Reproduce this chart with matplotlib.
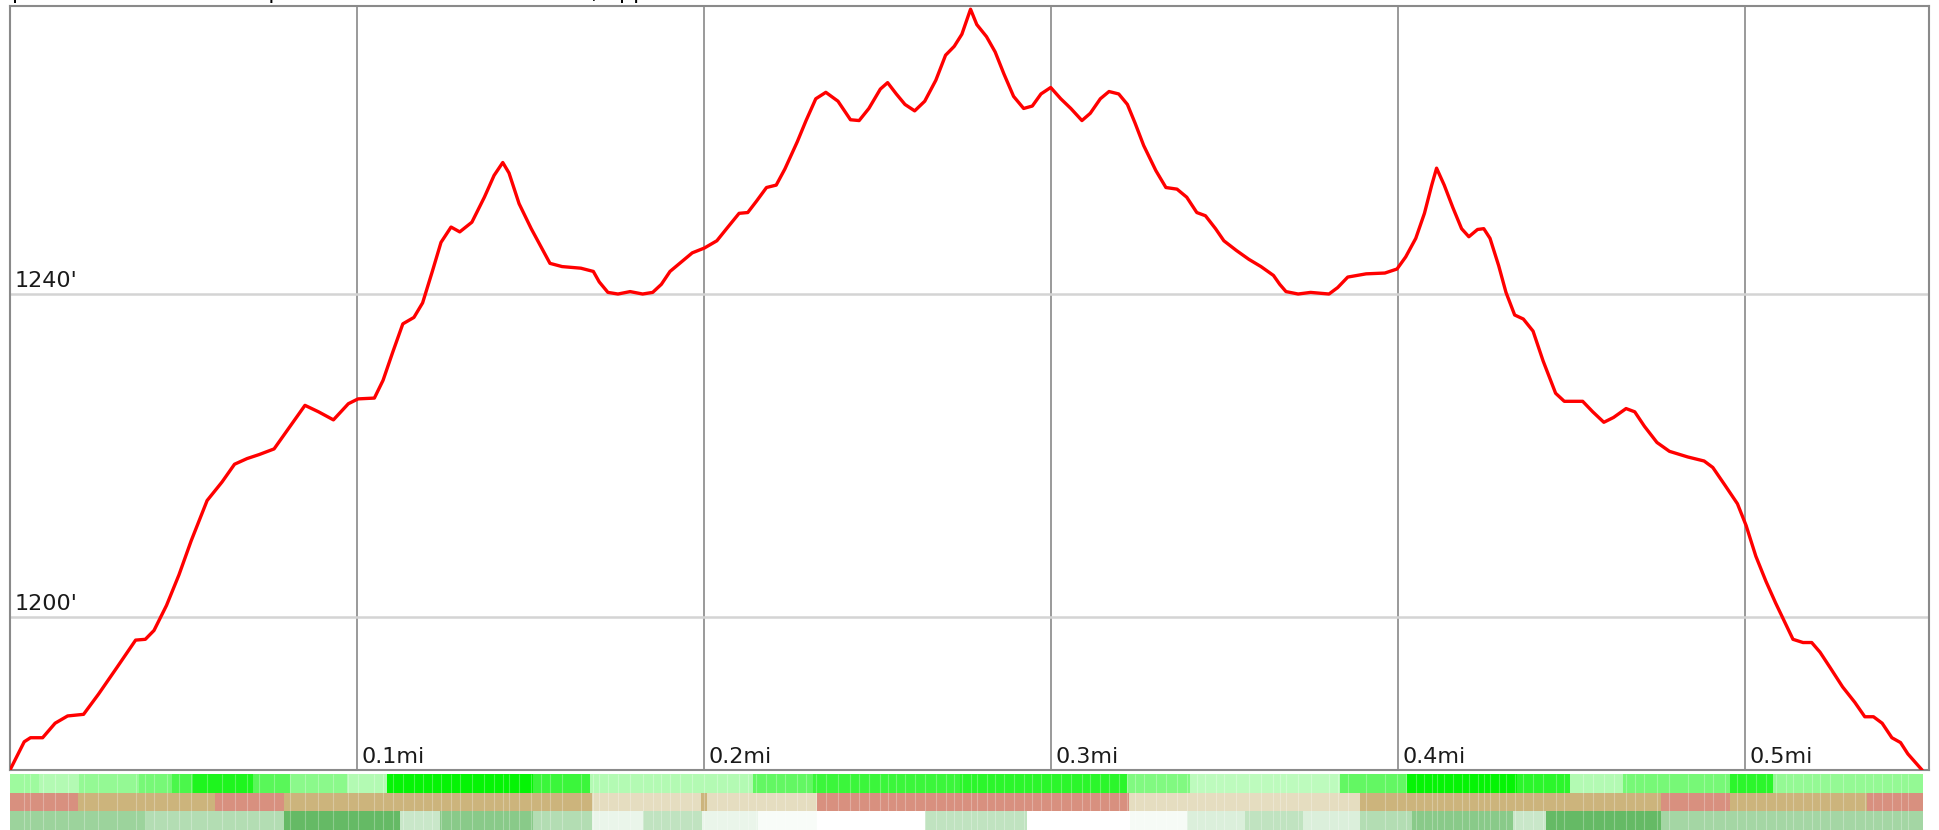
import matplotlib
matplotlib.use("Agg")
import matplotlib.pyplot as plt
from matplotlib.colors import LinearSegmentedColormap

# elevation profile (miles, feet)
dist_mi = [0.0000, 0.0041, 0.0059, 0.0094, 0.0130, 0.0166, 0.0212, 0.0255, 0.0308, 0.0362,
           0.0390, 0.0415, 0.0451, 0.0487, 0.0522, 0.0568, 0.0611, 0.0647, 0.0683, 0.0718,
           0.0761, 0.0807, 0.0850, 0.0889, 0.0932, 0.0975, 0.1003, 0.1050, 0.1075, 0.1103,
           0.1132, 0.1164, 0.1189, 0.1217, 0.1242, 0.1271, 0.1296, 0.1331, 0.1367, 0.1395,
           0.1420, 0.1438, 0.1467, 0.1502, 0.1531, 0.1556, 0.1591, 0.1645, 0.1681, 0.1698,
           0.1723, 0.1752, 0.1787, 0.1823, 0.1852, 0.1877, 0.1902, 0.1930, 0.1966, 0.2001,
           0.2037, 0.2065, 0.2101, 0.2126, 0.2151, 0.2180, 0.2208, 0.2233, 0.2269, 0.2294,
           0.2322, 0.2351, 0.2386, 0.2422, 0.2447, 0.2475, 0.2508, 0.2529, 0.2554, 0.2579,
           0.2607, 0.2636, 0.2668, 0.2696, 0.2721, 0.2743, 0.2768, 0.2786, 0.2814, 0.2839,
           0.2864, 0.2892, 0.2921, 0.2946, 0.2971, 0.2999, 0.3028, 0.3057, 0.3089, 0.3113,
           0.3142, 0.3167, 0.3195, 0.3220, 0.3242, 0.3267, 0.3302, 0.3331, 0.3363, 0.3391,
           0.3420, 0.3445, 0.3474, 0.3498, 0.3534, 0.3570, 0.3605, 0.3641, 0.3659, 0.3677,
           0.3712, 0.3748, 0.3801, 0.3826, 0.3855, 0.3908, 0.3962, 0.3997, 0.4022, 0.4051,
           0.4076, 0.4097, 0.4111, 0.4133, 0.4158, 0.4183, 0.4204, 0.4229, 0.4247, 0.4265,
           0.4290, 0.4311, 0.4336, 0.4361, 0.4389, 0.4418, 0.4454, 0.4479, 0.4532, 0.4561,
           0.4593, 0.4621, 0.4657, 0.4682, 0.4710, 0.4746, 0.4782, 0.4835, 0.4882, 0.4907,
           0.4942, 0.4978, 0.5003, 0.5031, 0.5060, 0.5088, 0.5117, 0.5138, 0.5167, 0.5192,
           0.5216, 0.5245, 0.5281, 0.5316, 0.5345, 0.5370, 0.5395, 0.5423, 0.5448, 0.5469,
           0.5510]
elev_ft = [1181.0, 1184.5, 1185.0, 1185.0, 1186.8, 1187.7, 1187.9, 1190.4, 1193.7, 1197.1,
           1197.2, 1198.3, 1201.4, 1205.2, 1209.4, 1214.4, 1216.7, 1218.9, 1219.6, 1220.1,
           1220.8, 1223.6, 1226.2, 1225.4, 1224.4, 1226.4, 1227.0, 1227.1, 1229.3, 1232.8,
           1236.3, 1237.1, 1238.9, 1242.8, 1246.4, 1248.3, 1247.7, 1248.9, 1252.0, 1254.7,
           1256.3, 1255.0, 1251.2, 1248.1, 1245.8, 1243.8, 1243.4, 1243.2, 1242.8, 1241.5,
           1240.2, 1240.0, 1240.3, 1240.0, 1240.2, 1241.2, 1242.8, 1243.8, 1245.1, 1245.7,
           1246.6, 1248.1, 1250.0, 1250.1, 1251.5, 1253.2, 1253.5, 1255.5, 1258.9, 1261.5,
           1264.2, 1265.0, 1263.9, 1261.6, 1261.5, 1263.0, 1265.4, 1266.2, 1264.8, 1263.5,
           1262.7, 1263.9, 1266.5, 1269.6, 1270.7, 1272.2, 1275.3, 1273.4, 1271.9, 1270.0,
           1267.3, 1264.5, 1263.0, 1263.3, 1264.8, 1265.6, 1264.2, 1263.0, 1261.5, 1262.4,
           1264.2, 1265.1, 1264.8, 1263.5, 1261.2, 1258.4, 1255.3, 1253.2, 1253.0, 1252.0,
           1250.1, 1249.7, 1248.1, 1246.6, 1245.4, 1244.3, 1243.4, 1242.3, 1241.2, 1240.3,
           1240.0, 1240.2, 1240.0, 1240.8, 1242.1, 1242.5, 1242.6, 1243.1, 1244.6, 1246.9,
           1250.0, 1253.5, 1255.6, 1253.5, 1250.7, 1248.1, 1247.1, 1248.0, 1248.1, 1246.9,
           1243.5, 1240.2, 1237.4, 1236.9, 1235.4, 1231.7, 1227.7, 1226.7, 1226.7, 1225.4,
           1224.1, 1224.7, 1225.8, 1225.4, 1223.6, 1221.6, 1220.5, 1219.8, 1219.3, 1218.5,
           1216.3, 1214.0, 1211.3, 1207.5, 1204.4, 1201.7, 1199.1, 1197.2, 1196.8, 1196.8,
           1195.6, 1193.7, 1191.3, 1189.4, 1187.6, 1187.6, 1186.8, 1185.0, 1184.4, 1183.0,
           1181.0]

x_ticks = [0.1, 0.2, 0.3, 0.4, 0.5]
x_labels = ["0.1mi", "0.2mi", "0.3mi", "0.4mi", "0.5mi"]
y_ticks = [1200, 1240]
y_labels = ["1200'", "1240'"]

# strip 1: grade intensity (0 = pale, 1 = full green)
grade_edges = [0.0, 0.0085, 0.0200, 0.0373, 0.0468, 0.0526, 0.0699, 0.0806, 0.0970, 0.1085,
               0.1506, 0.1670, 0.2140, 0.2313, 0.2737, 0.3218, 0.3400, 0.3832, 0.4026, 0.4343,
               0.4495, 0.4648, 0.4957, 0.5081, 0.5513]
grade_level = [0.2, 0.1, 0.25, 0.4, 0.62, 0.85, 0.55, 0.3, 0.1, 0.97,
               0.7, 0.1, 0.5, 0.7, 0.78, 0.35, 0.05, 0.5, 0.97, 0.78,
               0.1, 0.4, 0.78, 0.25]

# strip 2: surface type
surface_edges = [0.0, 0.0197, 0.0590, 0.0791, 0.1676, 0.1990, 0.2008, 0.2325, 0.3224, 0.3890,
                 0.4758, 0.4957, 0.5352, 0.5513]
surface_kind = ["rock", "dirt", "rock", "dirt", "sand", "dirt", "sand", "rock", "sand", "dirt",
                "rock", "dirt", "rock"]
surface_colors = {"rock": "#d8907f", "dirt": "#ccb47c", "sand": "#e5ddc0"}

# strip 3: canopy cover
cover_edges = [0.0, 0.0393, 0.0791, 0.1123, 0.1238, 0.1506, 0.1676, 0.1823, 0.1993, 0.2155,
               0.2325, 0.2636, 0.2930, 0.3227, 0.3392, 0.3559, 0.3726, 0.3890, 0.4040, 0.4331,
               0.4426, 0.4758, 0.5513]
cover_level = [0.55, 0.42, 0.85, 0.3, 0.65, 0.42, 0.12, 0.35, 0.12, 0.04,
               0.0, 0.35, 0.0, 0.05, 0.2, 0.35, 0.2, 0.42, 0.65, 0.3,
               0.85, 0.5]

W, H = 1939, 830
fig = plt.figure(figsize=(W / 100, H / 100), dpi=100)
fig.patch.set_facecolor("white")

ax = fig.add_axes([10 / W, 60 / H, 1919 / W, 764 / H])
ax.set_xlim(0, 0.5530)
ax.set_ylim(1181.0, 1275.7)
ax.set_xticks([])
ax.set_yticks([])
for s in ax.spines.values():
    s.set_color("#8a8a8a")
    s.set_linewidth(1.5)

for v in x_ticks:
    ax.axvline(v, color="#9a9a9a", lw=1.4, zorder=1)
for v in y_ticks:
    ax.axhline(v, color="#d4d4d4", lw=1.8, zorder=1)

for v, lab in zip(x_ticks, x_labels):
    ax.annotate(lab, xy=(v, 0), xycoords=("data", "axes fraction"), xytext=(4, 7),
                textcoords="offset pixels", va="baseline", ha="left", fontsize=16, color="#1a1a1a")
for v, lab in zip(y_ticks, y_labels):
    ax.annotate(lab, xy=(0, v), xycoords=("axes fraction", "data"), xytext=(5, 7),
                textcoords="offset pixels", va="baseline", ha="left", fontsize=16, color="#1a1a1a")

ax.plot(dist_mi, elev_ft, color="#ff0000", lw=2.4, solid_joinstyle="round",
        solid_capstyle="round", zorder=3)

# title, mostly cut off above the top edge (only descenders show, as in the original)
fig.text(12 / W, 1 + 1 / H, "profile of the whole loop and the total elevation rise, approx",
         fontsize=16, va="baseline", ha="left", color="black")

# coloured strips under the profile
bx = fig.add_axes([10 / W, 0, 1919 / W, 56 / H])
bx.set_xlim(0, 0.5530)
bx.set_ylim(0, 3)
bx.axis("off")

grade_cmap = LinearSegmentedColormap.from_list("grade", ["#c6fbc6", "#00f400"])
cover_cmap = LinearSegmentedColormap.from_list("cover", ["#ffffff", "#4aae4a"])

for i, lev in enumerate(grade_level):
    bx.broken_barh([(grade_edges[i], grade_edges[i + 1] - grade_edges[i])], (2, 1),
                   color=grade_cmap(lev), lw=0)
for i, kind in enumerate(surface_kind):
    bx.broken_barh([(surface_edges[i], surface_edges[i + 1] - surface_edges[i])], (1, 1),
                   color=surface_colors[kind], lw=0)
for i, lev in enumerate(cover_level):
    bx.broken_barh([(cover_edges[i], cover_edges[i + 1] - cover_edges[i])], (0, 1),
                   color=cover_cmap(lev), lw=0)

# faint seams between samples
bx.vlines(dist_mi[1:-1], 0, 3, color="white", alpha=0.28, lw=0.8)

fig.savefig("out.png", dpi=100, facecolor="white")
